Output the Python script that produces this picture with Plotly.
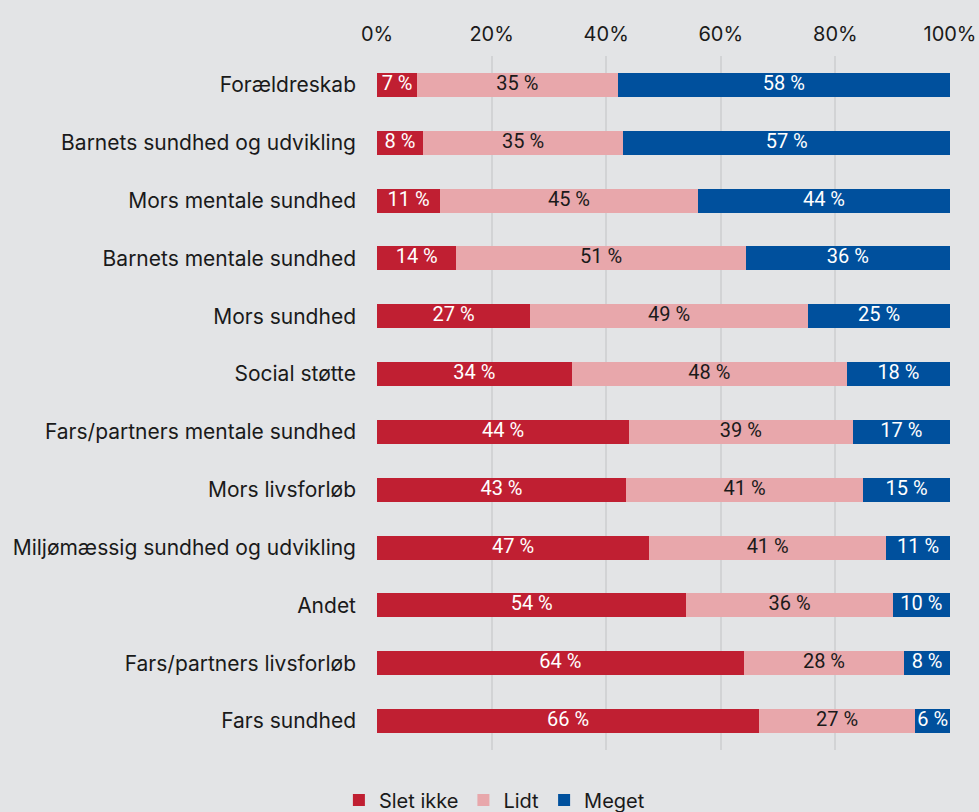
import plotly.graph_objects as go

categories = [
    "Forældreskab",
    "Barnets sundhed og udvikling",
    "Mors mentale sundhed",
    "Barnets mentale sundhed",
    "Mors sundhed",
    "Social støtte",
    "Fars/partners mentale sundhed",
    "Mors livsforløb",
    "Miljømæssig sundhed og udvikling",
    "Andet",
    "Fars/partners livsforløb",
    "Fars sundhed",
]
slet_ikke = [7, 8, 11, 14, 27, 34, 44, 43, 47, 54, 64, 66]
lidt = [35, 35, 45, 51, 49, 48, 39, 41, 41, 36, 28, 27]
meget = [58, 57, 44, 36, 25, 18, 17, 15, 11, 10, 8, 6]

x_ticks = [0, 20, 40, 60, 80, 100]
x_tick_labels = ["0%", "20%", "40%", "60%", "80%", "100%"]

series = [
    ("Slet ikke", slet_ikke, "#c01f32", "white"),
    ("Lidt", lidt, "#e8a7ab", "#1a1a1a"),
    ("Meget", meget, "#00509d", "white"),
]

FONT = "Inter, Roboto, sans-serif"
BAR_FONT = "Roboto, Inter, sans-serif"

# Row totals: each row is scaled to 100 % (barnorm), labels sit in segment centres
totals = [a + b + c for a, b, c in zip(slet_ikke, lidt, meget)]

fig = go.Figure()
for name, vals, color, tcolor in series:
    fig.add_trace(go.Bar(
        y=categories,
        x=vals,
        name=name,
        orientation="h",
        marker=dict(color=color, line=dict(width=0)),
        textposition="none",
        hoverinfo="name+y",
    ))

start = [0.0] * len(categories)
for name, vals, color, tcolor in series:
    mids = []
    for i, v in enumerate(vals):
        share = v / totals[i] * 100
        mids.append(start[i] + share / 2)
        start[i] += share
    fig.add_trace(go.Scatter(
        x=mids,
        y=categories,
        mode="text",
        text=[f"{v} %" for v in vals],
        textposition="middle center",
        textfont=dict(color=tcolor, size=20, family=BAR_FONT),
        showlegend=False,
        hoverinfo="skip",
        cliponaxis=False,
    ))

fig.update_layout(
    barmode="stack",
    barnorm="percent",
    bargap=0.585,
    width=979,
    height=812,
    margin=dict(l=377, r=29, t=56, b=62, autoexpand=False),
    paper_bgcolor="#e3e4e6",
    plot_bgcolor="#e3e4e6",
    font=dict(family=FONT, size=20, color="#1a1a1a"),
    showlegend=True,
    legend=dict(
        orientation="h",
        xref="container",
        x=0.505,
        xanchor="center",
        yref="paper",
        y=-0.072,
        yanchor="middle",
        font=dict(size=20, family=FONT),
        itemwidth=30,
        traceorder="normal",
    ),
    xaxis=dict(
        side="top",
        range=[0, 100],
        tickvals=x_ticks,
        ticktext=x_tick_labels,
        showgrid=True,
        gridcolor="#d2d3d5",
        gridwidth=1.5,
        zeroline=False,
        showline=False,
        ticks="",
        ticklabelstandoff=10,
        automargin=False,
        tickfont=dict(size=20),
    ),
    yaxis=dict(
        categoryorder="array",
        categoryarray=categories,
        range=[len(categories) - 0.5, -0.5],
        autorange=False,
        showgrid=False,
        ticks="",
        ticklabelstandoff=20,
        automargin=False,
        tickfont=dict(size=21),
    ),
)

fig.write_html("out.html")
